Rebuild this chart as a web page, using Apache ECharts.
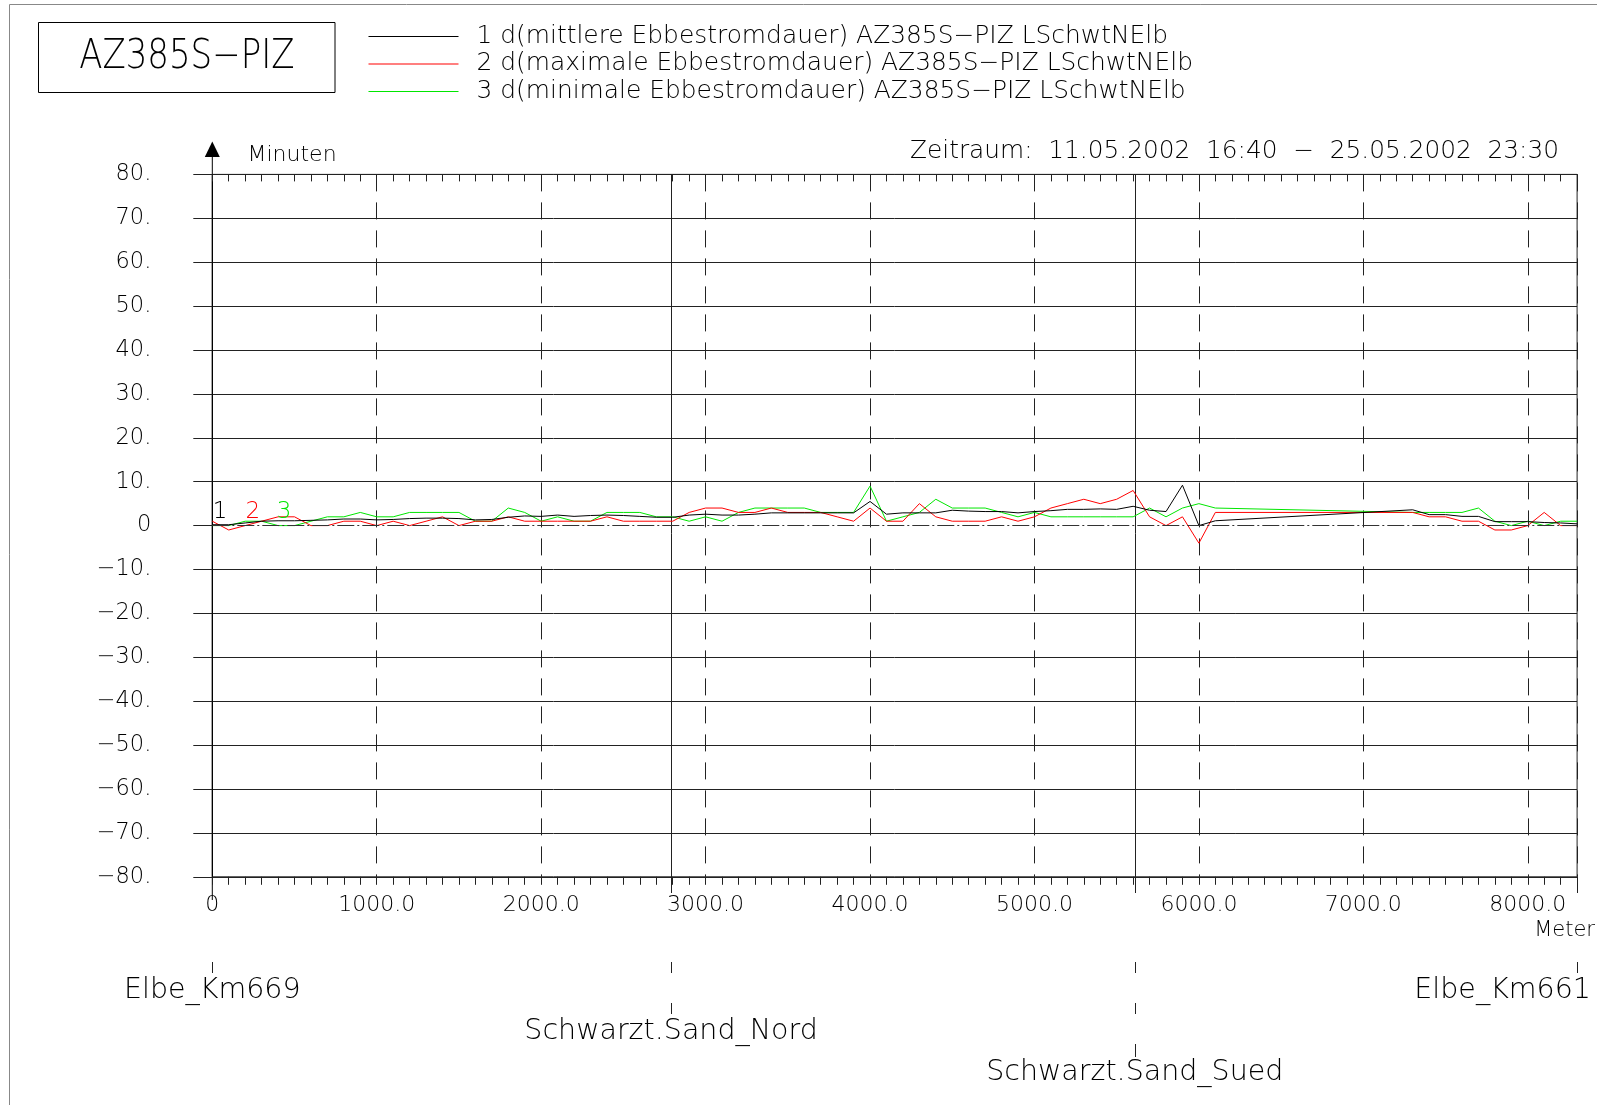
<!DOCTYPE html>
<html>
<head>
<meta charset="utf-8">
<title>AZ385S-PIZ</title>
<script src="https://cdn.jsdelivr.net/npm/echarts@6/dist/echarts.min.js"></script>
<style>
html, body { margin: 0; padding: 0; background: #fff; }
#chart { width: 1597px; height: 1105px; }
</style>
</head>
<body>
<div id="chart"></div>
<script>
// Abstand entlang der Elbe (Meter)
var distances = [0, 100, 200, 300, 400, 500, 600, 700, 800, 900,
    1000, 1100, 1200, 1300, 1400, 1500, 1600, 1700, 1800, 1900,
    2000, 2100, 2200, 2300, 2400, 2500, 2600, 2700, 2800, 2900,
    3000, 3100, 3200, 3300, 3400, 3500, 3600, 3700, 3800, 3900,
    4000, 4100, 4200, 4300, 4400, 4500, 4600, 4700, 4800, 4900,
    5000, 5100, 5200, 5300, 5400, 5500, 5600, 5700, 5800, 5900,
    6000, 6100, 7300, 7400, 7500, 7600, 7700, 7800, 7900, 8000,
    8100, 8200, 8300];

// 1 d(mittlere Ebbestromdauer)
var mittlere = [0.2, 0.2, 0.6, 1.0, 1.1, 1.1, 1.2, 1.3, 1.5, 1.5,
    1.3, 1.4, 1.6, 1.7, 1.7, 1.6, 1.3, 1.4, 1.9, 2.2,
    2.1, 2.4, 2.1, 2.3, 2.4, 2.3, 2.1, 1.9, 1.9, 2.4,
    2.6, 2.4, 2.4, 2.6, 2.9, 2.9, 2.9, 2.9, 2.9, 2.9,
    5.5, 2.6, 2.9, 2.9, 2.9, 3.5, 3.3, 3.2, 3.2, 2.9,
    3.2, 3.4, 3.7, 3.7, 3.8, 3.7, 4.4, 3.5, 3.2, 9.2,
    0.0, 1.1, 3.6, 2.5, 2.5, 2.1, 2.1, 0.9, 0.9, 0.9,
    0.7, 0.6, 0.4];

// 2 d(maximale Ebbestromdauer)
var maximale = [1, -1, 0, 1, 2, 2, 0, 0, 1, 1,
    0, 1, 0, 1, 2, 0, 1, 1, 2, 1,
    1, 1, 1, 1, 2, 1, 1, 1, 1, 3,
    4, 4, 3, 3, 4, 3, 3, 3, 2, 1,
    4, 1, 1, 5, 2, 1, 1, 1, 2, 1,
    2, 4, 5, 6, 5, 6, 8, 2, 0, 2,
    -4, 3, 3, 2, 2, 1, 1, -1, -1, 0,
    3, 0, 0];

// 3 d(minimale Ebbestromdauer)
var minimale = [0, 0, 1, 1, 0, 0, 1, 2, 2, 3,
    2, 2, 3, 3, 3, 3, 1, 1, 4, 3,
    1, 2, 1, 1, 3, 3, 3, 2, 2, 1,
    2, 1, 3, 4, 4, 4, 4, 3, 3, 3,
    9, 1, 2, 3, 6, 4, 4, 4, 3, 2,
    3, 2, 2, 2, 2, 2, 2, 4, 2, 4,
    5, 4, 3, 3, 3, 3, 4, 1, 0, 1,
    0, 1, 1];

var seriesNames = [
    '1 d(mittlere Ebbestromdauer) AZ385S\u2212PIZ LSchwtNElb',
    '2 d(maximale Ebbestromdauer) AZ385S\u2212PIZ LSchwtNElb',
    '3 d(minimale Ebbestromdauer) AZ385S\u2212PIZ LSchwtNElb'
];
var seriesColors = ['#000000', '#ff0000', '#00e600'];

var stationNames = ['Elbe_Km669', 'Schwarzt.Sand_Nord', 'Schwarzt.Sand_Sued', 'Elbe_Km661'];
var stationKm = [0, 2790, 5610, 8300];
var stationRow = [0, 1, 2, 0];

var curveLabels = ['1', '2', '3'];
var curveLabelKm = [47, 246, 436];

var FONT = 'DejaVu Sans';
var W = 200; // duenne Schrift wie im Plot

var chart = echarts.init(document.getElementById('chart'));

function pairs(vals) {
    var out = [];
    for (var i = 0; i < distances.length; i++) {
        out.push([distances[i], vals[i]]);
    }
    return out;
}

// Farben der horizontalen Gitterlinien, Nulllinie separat (strichpunktiert)
var splitColors = [];
for (var k = 0; k < 17; k++) {
    splitColors.push(k === 8 ? 'rgba(0,0,0,0)' : '#222');
}

var option = {
    animation: false,
    color: seriesColors,
    textStyle: { fontFamily: FONT, color: '#000', fontWeight: W },
    legend: {
        orient: 'vertical',
        left: 363.5,
        top: 19,
        itemWidth: 90,
        itemHeight: 1,
        itemGap: 2.5,
        icon: 'rect',
        selectedMode: false,
        textStyle: { fontFamily: FONT, fontWeight: W, fontSize: 24.9, color: '#000', padding: [0, 0, 0, 13] },
        data: seriesNames
    },
    grid: {
        left: 212.3,
        right: 19.9,
        top: 174.4,
        bottom: 228.2,
        show: true,
        borderColor: '#222',
        borderWidth: 1
    },
    xAxis: [{
        type: 'value',
        position: 'bottom',
        min: 0,
        max: 8300,
        interval: 1000,
        axisLine: { show: true, onZero: false, lineStyle: { color: '#222', width: 1 } },
        axisTick: { show: true, length: 8, lineStyle: { color: '#222' } },
        minorTick: { show: true, splitNumber: 10, length: 8, lineStyle: { color: '#222' } },
        axisLabel: {
            margin: 17,
            fontSize: 22,
            fontWeight: W,
            color: '#000',
            showMaxLabel: false,
            formatter: function (v) {
                if (v === 0) return '0';
                if (v > 8000) return '';
                return v.toFixed(1);
            }
        },
        splitLine: { show: true, lineStyle: { color: '#222', width: 1, type: [17, 11] } }
    }, {
        type: 'value',
        position: 'top',
        min: 0,
        max: 8300,
        interval: 1000,
        axisLine: { show: false, onZero: false },
        axisTick: { show: true, inside: true, length: 7, lineStyle: { color: '#222' } },
        minorTick: { show: true, splitNumber: 10, length: 7, lineStyle: { color: '#222' } },
        axisLabel: { show: false },
        splitLine: { show: false }
    }],
    yAxis: {
        type: 'value',
        min: -80,
        max: 80,
        interval: 10,
        axisLine: { show: true, lineStyle: { color: '#000', width: 1 } },
        axisTick: { show: true, length: 19, lineStyle: { color: '#222' } },
        axisLabel: {
            margin: 61,
            fontSize: 22.5,
            fontWeight: W,
            color: '#000',
            padding: [10, 0, 0, 0],
            formatter: function (v) {
                if (v === 0) return '0';
                if (v < 0) return '\u2212' + Math.abs(v) + '.';
                return v + '.';
            }
        },
        splitLine: { show: true, lineStyle: { color: splitColors, width: 1 } }
    },
    series: [{
        name: seriesNames[0],
        type: 'line',
        symbol: 'none',
        lineStyle: { width: 1 },
        data: pairs(mittlere),
        z: 4,
        markLine: {
            silent: true,
            symbol: 'none',
            label: { show: false },
            lineStyle: { color: '#333', width: 1, type: [17, 3, 2, 3] },
            data: [{ yAxis: 0 }]
        }
    }, {
        name: seriesNames[1],
        type: 'line',
        symbol: 'none',
        lineStyle: { width: 1 },
        data: pairs(maximale),
        z: 3
    }, {
        name: seriesNames[2],
        type: 'line',
        symbol: 'none',
        lineStyle: { width: 1 },
        data: pairs(minimale),
        z: 2
    }]
};

chart.setOption(option);

// Beschriftungen und Markierungen, Lage aus den Achsen
function px(km) {
    return chart.convertToPixel({ xAxisIndex: 0 }, km);
}
function font(size) {
    return W + ' ' + size + 'px ' + FONT;
}
var gTop = 174.4;
var gBottom = 1105 - 228.2;
var x0 = px(0);
var lineStyle = { stroke: '#222', lineWidth: 1 };
var els = [];

// Rahmen
els.push({ type: 'line', shape: { x1: 9.5, y1: 4.5, x2: 1597, y2: 4.5 }, style: { stroke: '#888', lineWidth: 1 } });
els.push({ type: 'line', shape: { x1: 9.5, y1: 4.5, x2: 9.5, y2: 1105 }, style: { stroke: '#888', lineWidth: 1 } });

// Titelbox
els.push({ type: 'rect', shape: { x: 38.5, y: 22.5, width: 296.5, height: 70 }, style: { fill: 'none', stroke: '#000', lineWidth: 1 } });
els.push({ type: 'text', x: 186.8, y: 58, scaleY: 1.18,
    style: { text: 'AZ385S\u2212PIZ', font: font(34), fill: '#000', align: 'center', verticalAlign: 'middle' } });

// Zeitraum
els.push({ type: 'text', x: 1559, y: 152,
    style: { text: 'Zeitraum:  11.05.2002  16:40  \u2212  25.05.2002  23:30', font: font(24.8), fill: '#000', align: 'right', verticalAlign: 'middle' } });

// y-Achse mit Pfeil
els.push({ type: 'polygon', shape: { points: [[x0, 141.5], [x0 - 7.5, 157], [x0 + 7.5, 157]] }, style: { fill: '#000' } });
els.push({ type: 'line', shape: { x1: x0, y1: 156, x2: x0, y2: 900 }, style: { stroke: '#000', lineWidth: 1 } });
els.push({ type: 'text', x: 247.5, y: 155,
    style: { text: 'Minuten', font: font(22), fill: '#000', align: 'left', verticalAlign: 'middle' } });
els.push({ type: 'text', x: 1595, y: 931,
    style: { text: 'Meter', font: font(21), fill: '#000', align: 'right', verticalAlign: 'middle' } });

// Ortsmarken
for (var s = 0; s < stationNames.length; s++) {
    var sx = Math.round(px(stationKm[s])) + 0.5;
    if (s > 0) {
        var yStart = (s === stationNames.length - 1) ? gBottom : gTop;
        els.push({ type: 'line', shape: { x1: sx, y1: yStart, x2: sx, y2: 893 }, style: lineStyle });
    }
    for (var r = 0; r <= stationRow[s]; r++) {
        els.push({ type: 'line', shape: { x1: sx, y1: 962 + 41 * r, x2: sx, y2: 973 + 41 * r + (r === 2 ? 2 : 0) }, style: lineStyle });
    }
    var isLast = s === stationNames.length - 1;
    els.push({ type: 'text', x: isLast ? 1591 : px(stationKm[s]), y: 991 + 40.7 * stationRow[s],
        style: { text: stationNames[s], font: font(28.5), fill: '#000', align: isLast ? 'right' : 'center', verticalAlign: 'middle' } });
}

// Kurvennummern
for (var c = 0; c < curveLabels.length; c++) {
    var p = chart.convertToPixel({ gridIndex: 0 }, [curveLabelKm[c], 3.2]);
    els.push({ type: 'text', x: p[0], y: p[1], z: 10,
        style: { text: curveLabels[c], font: font(23), fill: seriesColors[c], align: 'center', verticalAlign: 'middle' } });
}

chart.setOption({ graphic: { elements: els } });
</script>
</body>
</html>
